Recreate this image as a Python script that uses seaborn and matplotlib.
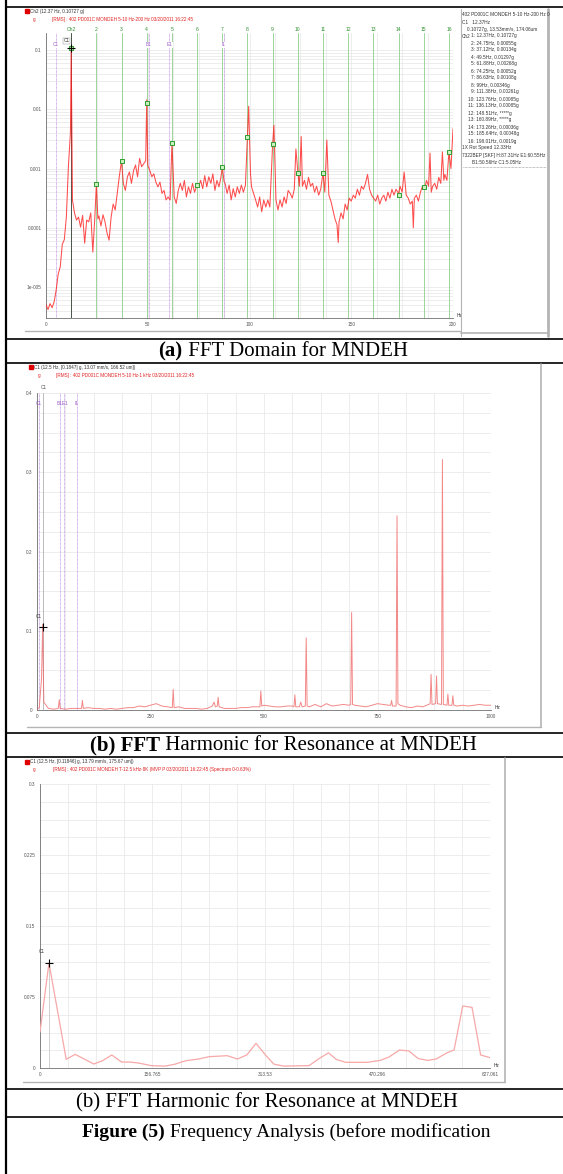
import numpy as np
import matplotlib
matplotlib.use("Agg")
import matplotlib.pyplot as plt
from matplotlib.ticker import MultipleLocator, LogLocator, NullFormatter
import seaborn as sns

W, H = 563, 1174

# ---- (a) FFT domain, Ch2, 0-200 Hz (amplitude read as log10 of g)
freq_a = [0, 1, 2, 3, 4, 5, 6, 7, 8, 9, 10, 11, 12, 12.37, 13, 14, 15, 16, 17, 18,
          19, 20, 21, 22, 23, 24, 24.75, 25.5, 26, 27, 28, 29, 30, 31, 32, 33, 34, 35, 36, 37.12,
          38, 39, 40, 41, 42, 43, 44, 45, 46, 47, 48, 49, 49.5, 50, 51, 52, 53, 54, 55, 56,
          57, 58, 59, 60, 61, 61.88, 63, 64, 65, 66, 67, 68, 69, 70, 71, 72, 73, 74.25, 75, 76,
          77, 78, 79, 80, 81, 82, 83, 84, 85, 86, 86.63, 87.5, 88, 89, 90, 91, 92, 93, 94, 95,
          96, 97, 98, 99, 99.6, 100.5, 101, 102, 103, 104, 105, 106, 107, 108, 109, 110, 111.38, 112, 113, 114,
          115, 116, 117, 118, 119, 120, 121, 122, 122.8, 123.76, 124.5, 125.4, 126, 127, 128, 129, 130, 131, 132, 133,
          134, 135, 136.13, 137, 138, 139, 140, 141, 142, 143, 143.6, 144, 145, 146, 147, 148, 149, 150, 151, 152,
          153, 154, 155, 156, 157, 158, 159, 160, 161, 162, 163, 164, 165, 166, 167, 168, 169, 170, 171, 172,
          173.26, 174, 175, 176, 177, 178, 179, 180, 180.5, 181, 182, 183, 184, 185, 186, 187, 188, 188.7, 189.3, 190,
          191, 192, 193, 194, 194.8, 195.5, 196, 197, 198.01, 199, 200]
logamp_a = [-5.30, -5.38, -5.28, -5.35, -5.25, -5.05, -4.78, -4.66, -4.28, -4.20, -3.82, -2.97, -2.40, -0.97, -3.53, -3.75, -3.87, -3.82, -3.99, -3.79,
            -4.26, -3.87, -3.90, -3.75, -4.41, -3.82, -3.26, -3.85, -3.80, -3.97, -3.78, -3.90, -4.09, -4.21, -3.82, -3.60, -3.70, -3.42, -3.14, -2.87,
            -3.25, -3.37, -3.14, -3.06, -3.25, -3.04, -2.94, -3.14, -2.83, -2.97, -2.92, -2.87, -1.84, -2.95, -3.03, -3.14, -3.09, -3.23, -3.31, -3.23,
            -3.42, -3.37, -3.53, -3.48, -3.53, -2.57, -3.48, -3.59, -3.37, -3.25, -3.37, -3.20, -3.48, -3.31, -3.42, -3.25, -3.40, -3.28, -3.31, -3.20,
            -3.34, -3.12, -3.31, -3.14, -3.25, -3.09, -3.37, -3.20, -3.31, -3.14, -2.97, -3.22, -3.25, -3.42, -3.28, -3.53, -3.34, -3.48, -3.31, -3.42,
            -3.28, -3.40, -3.28, -2.46, -1.95, -3.10, -3.31, -3.42, -3.53, -3.65, -3.48, -3.73, -3.53, -3.65, -3.53, -3.65, -2.58, -2.27, -3.53, -3.70,
            -3.53, -3.65, -3.48, -3.59, -3.37, -3.42, -3.50, -3.35, -2.67, -3.06, -3.30, -2.46, -3.30, -3.20, -3.35, -3.15, -3.30, -3.25, -3.40, -3.30,
            -3.45, -3.35, -3.07, -3.40, -2.52, -3.45, -3.55, -3.70, -3.85, -3.95, -4.25, -3.90, -3.75, -3.85, -3.60, -3.70, -3.50, -3.55, -3.45, -3.50,
            -3.35, -3.45, -3.30, -3.35, -3.25, -3.10, -3.35, -3.45, -3.50, -3.55, -3.45, -3.60, -3.50, -3.45, -3.55, -3.40, -3.50, -3.35, -3.45, -3.35,
            -3.42, -3.30, -3.40, -3.06, -3.45, -3.50, -3.60, -3.55, -4.00, -3.50, -3.45, -3.55, -3.40, -3.30, -3.35, -3.20, -3.30, -2.74, -3.40, -3.30,
            -3.25, -3.35, -3.15, -3.25, -2.72, -3.20, -3.10, -3.20, -2.72, -3.00, -2.33]

harm_num = list(range(1, 17))
harm_hz = [12.37, 24.75, 37.12, 49.5, 61.88, 74.25, 86.63, 99.0,
           111.38, 123.76, 136.13, 148.51, 160.89, 173.26, 185.64, 198.01]
harm_g = [0.10727, 0.00055, 0.00134, 0.01297, 0.00268, 0.00052, 0.00108, 0.00346,
          0.00261, 0.00085, 0.00085, None, None, 0.00036, 0.00048, 0.0019]
harm_txt = ["0.10727g", "0.00055g", "0.00134g", "0.01297g", "0.00268g", "0.00052g", "0.00108g", "0.00346g",
            "0.00261g", "0.00085g", "0.00085g", "*****g", "*****g", "0.00036g", "0.00048g", "0.0019g"]

bear_lbl = ["C1", "B1", "E1", "I1"]
bear_hz = [5.05, 50.56, 60.55, 87.31]

# ---- (b) FFT harmonic, C1, 0-1 kHz
freq_b = [0, 5, 10, 12.5, 15, 25, 37.5, 47, 49, 51, 62.5, 75, 87.5, 98, 100, 102, 112.5, 125, 137.5, 150,
          162.5, 175, 187.5, 200, 212.5, 225, 237.5, 250, 262.5, 275, 287.5, 298, 300, 302, 312.5, 325, 337.5, 350, 362.5, 375,
          386, 390, 393, 397, 399, 401, 412.5, 425, 437.5, 450, 462.5, 475, 487.5, 491, 493, 495, 500, 512.5, 525, 537.5,
          550, 562.5, 566, 568, 570, 578, 581, 584, 591, 593, 595, 600, 612.5, 625, 637.5, 650, 662.5, 675, 687.5, 691,
          693, 695, 700, 712.5, 725, 737.5, 750, 762.5, 775, 779, 781, 783, 791, 793, 795, 800, 812.5, 825, 837.5, 850,
          862.5, 866, 868, 870, 878, 880, 882, 891, 893, 895, 903, 905, 907, 914, 916, 918, 925, 937.5, 950, 962.5,
          975, 987.5, 1000]
amp_b = [0.001, 0.003, 0.040, 0.108, 0.010, 0.002, 0.001, 0.002, 0.013, 0.002, 0.001, 0.002, 0.002, 0.002, 0.012, 0.002, 0.003, 0.002, 0.002, 0.001,
         0.002, 0.001, 0.002, 0.003, 0.003, 0.005, 0.004, 0.006, 0.008, 0.005, 0.004, 0.003, 0.026, 0.003, 0.004, 0.002, 0.002, 0.002, 0.001, 0.002,
         0.005, 0.010, 0.004, 0.005, 0.016, 0.004, 0.002, 0.002, 0.002, 0.003, 0.003, 0.004, 0.004, 0.004, 0.024, 0.005, 0.006, 0.005, 0.004, 0.004,
         0.005, 0.005, 0.004, 0.019, 0.004, 0.004, 0.010, 0.004, 0.005, 0.091, 0.005, 0.004, 0.007, 0.004, 0.008, 0.005, 0.006, 0.007, 0.006, 0.007,
         0.123, 0.007, 0.006, 0.005, 0.004, 0.006, 0.008, 0.007, 0.006, 0.006, 0.012, 0.005, 0.005, 0.245, 0.008, 0.006, 0.004, 0.003, 0.005, 0.004,
         0.007, 0.008, 0.045, 0.007, 0.008, 0.043, 0.008, 0.007, 0.316, 0.007, 0.006, 0.020, 0.006, 0.006, 0.018, 0.006, 0.005, 0.006, 0.005, 0.006,
         0.007, 0.006, 0.006]

# ---- (c) FFT harmonic, C1, 0-627 Hz (coarse)
freq_c = [0, 12.5, 36.5, 49, 75, 87, 100, 113.7, 125, 137, 155, 174, 188, 203, 221, 236, 261, 275, 288, 301,
          315, 326, 340, 375, 389, 402, 413, 426, 456, 474, 486, 501, 514, 527, 540, 552, 567, 577, 589, 602,
          614, 627]
amp_c = [0.038, 0.111, 0.0092, 0.0144, 0.0042, 0.0077, 0.0137, 0.0063, 0.0063, 0.0053, 0.0025, 0.0020, 0.0040, 0.0077, 0.0095, 0.0120, 0.0130, 0.0095, 0.0137, 0.0260,
         0.0130, 0.0040, 0.0020, 0.0025, 0.0100, 0.0160, 0.0090, 0.0060, 0.0060, 0.0080, 0.0115, 0.0190, 0.0180, 0.0100, 0.0080, 0.0095, 0.0160, 0.0190, 0.0655, 0.0640,
         0.0137, 0.0110]
ticks_c = [0, 156.765, 313.53, 470.296, 627.061]

sns.set_theme(style="white")
plt.rcParams['font.family'] = ['Liberation Sans Narrow', 'Liberation Sans', 'DejaVu Sans']

fig = plt.figure(figsize=(W / 100, H / 100), dpi=100)
fig.patch.set_facecolor('white')


def px_axes(x0, y0, x1, y1):
    return fig.add_axes([x0 / W, 1 - y1 / H, (x1 - x0) / W, (y1 - y0) / H])


def style(ax):
    sns.despine(ax=ax)
    for s in ['left', 'bottom']:
        ax.spines[s].set_color('#707070')
        ax.spines[s].set_linewidth(0.6)
    ax.tick_params(which='major', length=2, width=0.5, pad=1.2, labelsize=3.4, colors='#555555')
    ax.tick_params(which='minor', length=0)
    ax.grid(True, which='both', color='#e6e6e6', lw=0.5)
    ax.set_axisbelow(True)
    ax.set_xlabel('')
    ax.set_ylabel('')


TXT = dict(fontsize=3.4, color='#333333')
PURPLE = '#c79be6'
GREEN = '#8ccf8c'

# ---------------- panel (a)
ax_a = px_axes(46, 33, 453, 318)
ax_a.set_yscale('log')
for hz in harm_hz:
    ax_a.axvline(hz, color=GREEN, lw=0.6, zorder=1)
for hz in bear_hz:
    ax_a.axvline(hz, color=PURPLE, lw=0.6, ls=(0, (1, 0.6)), zorder=1)
ax_a.axvline(12.37, color='#404040', lw=0.6, zorder=1)
sns.lineplot(x=freq_a, y=10 ** np.array(logamp_a), ax=ax_a, color='#ff2020', lw=0.75, alpha=0.8, zorder=3)
hx = [h for h, g in zip(harm_hz, harm_g) if g is not None]
hg = [g for g in harm_g if g is not None]
sns.scatterplot(x=hx, y=hg, ax=ax_a, marker='s', s=10, color='#c9eec2', edgecolor='#2f9e2f',
                linewidth=0.7, zorder=5)
ax_a.plot([12.37], [0.107], marker='+', color='black', ms=6, mew=0.8, zorder=6)
ax_a.set_xlim(0, 200)
ax_a.set_ylim(10 ** -5.523, 10 ** -0.713)
ax_a.set_xticks([0, 50, 100, 150, 200])
ax_a.set_yticks([0.1, 0.01, 0.001, 0.0001, 0.00001], ['0.1', '0.01', '0.001', '0.0001', '1e-005'])
ax_a.yaxis.set_minor_locator(LogLocator(subs=np.arange(2, 10)))
ax_a.yaxis.set_minor_formatter(NullFormatter())
ax_a.xaxis.set_minor_locator(MultipleLocator(12.5))
style(ax_a)
tr = ax_a.get_xaxis_transform()
ax_a.text(harm_hz[0], 1.012, 'Ch2', transform=tr, ha='center', va='center', fontsize=3.6, color='#2f8f2f')
for n, hz in zip(harm_num[1:], harm_hz[1:]):
    ax_a.text(hz, 1.012, str(n), transform=tr, ha='center', va='center', fontsize=3.6, color='#2f8f2f')
for lbl, hz in zip(bear_lbl, bear_hz):
    ax_a.text(hz, 0.958, lbl, transform=tr, ha='center', va='center', fontsize=3.4, color='#9a5cc8',
              bbox=dict(boxstyle='square,pad=0.15', fc='white', ec='none'))
ax_a.text(10.0, 0.972, 'C1', transform=tr, ha='center', va='center', fontsize=3.4, color='#333333',
          bbox=dict(boxstyle='square,pad=0.15', fc='white', ec='#888888', lw=0.3))
ax_a.text(1.01, 0.0, 'Hz', transform=ax_a.transAxes, ha='left', va='bottom', **TXT)

# ---------------- panel (b)
ax_b = px_axes(37, 393, 491, 710)
for hz in bear_hz:
    ax_b.axvline(hz, color=PURPLE, lw=0.6, ls=(0, (1, 0.6)), zorder=1)
ax_b.axvline(12.5, color='#b0b0b0', lw=0.6, zorder=1)
sns.lineplot(x=freq_b, y=amp_b, ax=ax_b, color='#f06a6a', lw=0.7, alpha=0.8, zorder=3)
ax_b.plot([12.5], [0.105], marker='+', color='black', ms=6, mew=0.8, zorder=6)
ax_b.set_xlim(0, 1000)
ax_b.set_ylim(0, 0.4)
ax_b.set_xticks([0, 250, 500, 750, 1000])
ax_b.set_yticks([0, 0.1, 0.2, 0.3, 0.4], ['0', '0.1', '0.2', '0.3', '0.4'])
ax_b.xaxis.set_minor_locator(MultipleLocator(62.5))
ax_b.yaxis.set_minor_locator(MultipleLocator(0.025))
style(ax_b)
tr = ax_b.get_xaxis_transform()
ax_b.text(5.05, 0.968, 'C1', transform=tr, ha='center', va='center', fontsize=3.4, color='#9a5cc8')
ax_b.text(56, 0.968, 'B1E1', transform=tr, ha='center', va='center', fontsize=3.4, color='#9a5cc8')
ax_b.text(87.31, 0.968, 'I1', transform=tr, ha='center', va='center', fontsize=3.4, color='#9a5cc8')
ax_b.text(14, 1.016, 'C1', transform=tr, ha='center', va='center', fontsize=3.4, color='#555555')
ax_b.text(5, 0.118, 'C1', ha='center', va='center', fontsize=3.4, color='#444444')
ax_b.text(1.008, 0.0, 'Hz', transform=ax_b.transAxes, ha='left', va='bottom', **TXT)

# ---------------- panel (c)
ax_c = px_axes(40, 784, 490, 1068)
ax_c.axvline(12.5, color='#c8c8c8', lw=0.6, ymax=0.37, zorder=1)
sns.lineplot(x=freq_c, y=amp_c, ax=ax_c, color='#f7a8a8', lw=0.9, zorder=3)
ax_c.plot([12.5], [0.111], marker='+', color='black', ms=6, mew=0.8, zorder=6)
ax_c.set_xlim(0, 627.061)
ax_c.set_ylim(0, 0.3)
ax_c.set_xticks(ticks_c, ['0', '156.765', '313.53', '470.296', '627.061'])
ax_c.set_yticks([0, 0.075, 0.15, 0.225, 0.3], ['0', '0.075', '0.15', '0.225', '0.3'])
ax_c.xaxis.set_minor_locator(MultipleLocator(627.061 / 16))
ax_c.yaxis.set_minor_locator(MultipleLocator(0.01875))
style(ax_c)
ax_c.text(3, 0.123, 'C1', ha='center', va='center', fontsize=3.4, color='#444444')
ax_c.text(1.008, 0.0, 'Hz', transform=ax_c.transAxes, ha='left', va='bottom', **TXT)

# ---------------- page overlay: table rules, window frames, headers, captions
bg = fig.add_axes([0, 0, 1, 1], zorder=10)
bg.set_xlim(0, W)
bg.set_ylim(H, 0)
bg.axis('off')

bg.plot([6, 6], [0, H], color='black', lw=1.6)
for yy in [7, 339, 363, 733, 757, 1089, 1117]:
    bg.plot([6, W], [yy, yy], color='black', lw=1.2)

GRAY = '#b4b4b4'
bg.plot([25, 460], [331, 331], color=GRAY, lw=1.0)
bg.plot([461, 461], [9, 336], color=GRAY, lw=0.8)
bg.plot([548, 548], [9, 336], color=GRAY, lw=2.0)
bg.plot([461, 548], [333, 333], color=GRAY, lw=1.2)
bg.plot([463, 546], [167, 167], color='#888888', lw=0.5, ls=(0, (1, 1)))
bg.plot([27, 541], [727, 727], color=GRAY, lw=1.0)
bg.plot([541, 541], [364, 727], color=GRAY, lw=1.2)
bg.plot([23, 505], [1082, 1082], color=GRAY, lw=1.0)
bg.plot([505, 505], [758, 1082], color=GRAY, lw=1.2)

HDR = dict(fontsize=3.3, va='center', ha='left')
bg.add_patch(plt.Rectangle((25, 9), 4, 4, color='#e00000'))
bg.text(30, 11, 'Ch2 (12.37 Hz, 0.10727 g)', color='#333333', **HDR)
bg.text(33, 19.5, 'g', color='#e02020', **HDR)
bg.text(52, 19.5, '[RMS] : 402 PD001C MONDEH 5-10 Hz-200 Hz 03/20/2011 16:22:45', color='#e02020', **HDR)

bg.add_patch(plt.Rectangle((29, 365), 4, 4, color='#e00000'))
bg.text(34, 367, 'C1 (12.5 Hz, [0.1847] g, 13.07 mm/s, 166.52 um])', color='#333333', **HDR)
bg.text(38, 376, 'g', color='#e02020', **HDR)
bg.text(56, 375.5, '[RMS] : 402 PD001C MONDEH 5-10 Hz-1 kHz 03/20/2011 16:22:45', color='#e02020', **HDR)

bg.add_patch(plt.Rectangle((25, 760), 4, 4, color='#e00000'))
bg.text(30, 762, 'C1 (12.5 Hz, [0.11846] g, 13.79 mm/s, 175.67 um])', color='#333333', **HDR)
bg.text(33, 770, 'g', color='#e02020', **HDR)
bg.text(53, 770, '[RMS] : 402 PD001C MONDEH T-12.5 kHz-8K (MVP P 03/20/2011 16:22:45 (Spectrum 0-0.63%)',
        color='#e02020', **HDR)

# list box of panel (a)
LST = dict(fontsize=3.4, va='center', ha='left', color='#333333')
bg.text(462, 15, '402 PD001C MONDEH 5-10 Hz-200 Hz 0', **LST)
bg.text(462, 22, 'C1   12.37Hz', **LST)
bg.text(467, 29, '0.10727g, 13.53mm/s, 174.06um', **LST)
bg.text(462, 36, 'Ch2', **LST)
for i, (n, hz, txt) in enumerate(zip(harm_num, harm_hz, harm_txt)):
    xx = 471 if n < 10 else 468
    bg.text(xx, 36 + 7 * i, f'{n}: {hz:g}Hz, {txt}', **LST)
bg.text(462, 148, '1X Rot Speed 12.33Hz', **LST)
bg.text(462, 155, '7322BEP [SKF] H:87.31Hz E1:60.55Hz', **LST)
bg.text(472, 162, 'B1:50.56Hz C1:5.05Hz', **LST)

renderer = fig.canvas.get_renderer()


def rich_text(x, y, parts, size, ha='left'):
    items = [bg.text(0, y, s, fontsize=size, fontweight=w, family='Liberation Serif',
                     va='center', ha='left', color='black') for s, w in parts]
    widths = [t.get_window_extent(renderer).width for t in items]
    start = x - sum(widths) / 2 if ha == 'center' else x
    for t, wpx in zip(items, widths):
        t.set_x(start)
        start += wpx


rich_text(283, 351, [('(a)', 'bold'), (' FFT Domain for MNDEH', 'normal')], 15, 'center')
rich_text(283, 745, [('(b) FFT', 'bold'), (' Harmonic for Resonance at MNDEH', 'normal')], 15, 'center')
rich_text(267, 1103, [('(b) FFT Harmonic for Resonance at MNDEH', 'normal')], 15, 'center')
rich_text(82, 1132, [('Figure (5)', 'bold'), (' Frequency Analysis (before modification', 'normal')], 14, 'left')

fig.savefig('out.png', dpi=100)
